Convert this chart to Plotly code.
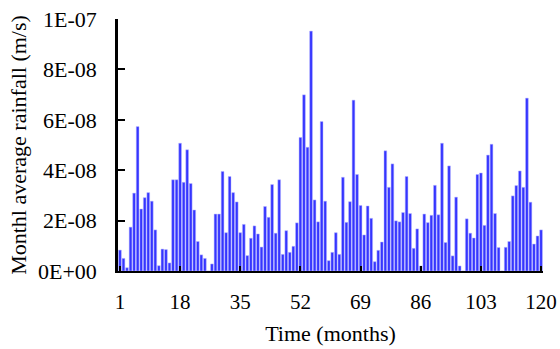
import plotly.graph_objects as go

months = list(range(1, 121))
# Monthly average rainfall, in units of 1E-08 m/s
rain_e8 = [
    0.83, 0.50, 0.13, 1.74, 3.09, 5.73, 2.46, 2.91, 3.11, 2.77,
    1.63, 0.21, 0.87, 0.85, 0.32, 3.62, 3.62, 5.07, 3.52, 4.81,
    3.47, 2.42, 1.17, 0.64, 0.50, 0.00, 0.28, 2.26, 2.26, 3.95,
    1.52, 3.75, 3.11, 2.74, 1.52, 1.85, 0.61, 1.30, 1.79, 1.47,
    0.95, 2.56, 2.13, 3.43, 1.50, 3.62, 0.66, 1.60, 0.74, 0.98,
    1.91, 5.30, 6.99, 4.91, 9.52, 2.82, 1.95, 5.93, 2.77, 0.41,
    0.74, 1.52, 0.66, 3.72, 1.93, 2.75, 6.78, 3.83, 2.60, 1.43,
    2.58, 2.09, 0.37, 0.82, 1.15, 4.77, 3.32, 4.25, 1.99, 1.95,
    2.32, 3.75, 2.28, 0.90, 1.67, 0.20, 2.26, 1.92, 2.21, 3.40,
    2.23, 5.07, 1.13, 4.17, 0.60, 2.93, 0.20, 0.00, 2.07, 1.50,
    1.31, 3.83, 3.89, 1.81, 4.60, 5.03, 2.28, 0.93, 0.00, 0.94,
    1.17, 2.98, 3.39, 3.97, 3.32, 6.86, 2.73, 1.07, 1.39, 1.63,
]
rain = [v * 1e-8 for v in rain_e8]

x_tickvals = [1, 18, 35, 52, 69, 86, 103, 120]
y_tickvals = [0, 2e-8, 4e-8, 6e-8, 8e-8, 1e-7]
y_ticktext = ["0E+00", "2E-08", "4E-08", "6E-08", "8E-08", "1E-07"]

font_family = "Liberation Serif"

fig = go.Figure(
    go.Bar(
        x=months,
        y=rain,
        marker=dict(color="#3535ff", line=dict(color="#b8b8ff", width=0.5)),
        hoverinfo="skip",
    )
)

fig.update_layout(
    width=560,
    height=349,
    margin=dict(l=118, r=17, t=19, b=78),
    paper_bgcolor="white",
    plot_bgcolor="white",
    bargap=0.22,
    showlegend=False,
    font=dict(family=font_family, size=21, color="black"),
)

fig.update_xaxes(
    automargin=False,
    range=[0.45, 120.55],
    tickmode="array",
    tickvals=x_tickvals,
    ticktext=[str(v) for v in x_tickvals],
    ticks="inside",
    ticklen=5,
    tickwidth=2,
    tickcolor="black",
    showline=True,
    linecolor="black",
    linewidth=2,
    showgrid=False,
    zeroline=False,
    ticklabelstandoff=11,
    tickfont=dict(family=font_family, size=21, color="black"),
    title=dict(text="Time (months)", font=dict(family=font_family, size=22, color="black"), standoff=12),
)

fig.update_yaxes(
    automargin=False,
    range=[0, 1e-7],
    tickmode="array",
    tickvals=y_tickvals,
    ticktext=y_ticktext,
    ticks="inside",
    ticklen=7,
    tickwidth=2,
    tickcolor="black",
    showline=True,
    linecolor="black",
    linewidth=2.5,
    showgrid=False,
    zeroline=False,
    ticklabelstandoff=14,
    tickfont=dict(family=font_family, size=22, color="black"),
    title=dict(text="Monthl average rainfall (m/s)", font=dict(family=font_family, size=22, color="black"), standoff=6),
)

fig.write_html("out.html")
